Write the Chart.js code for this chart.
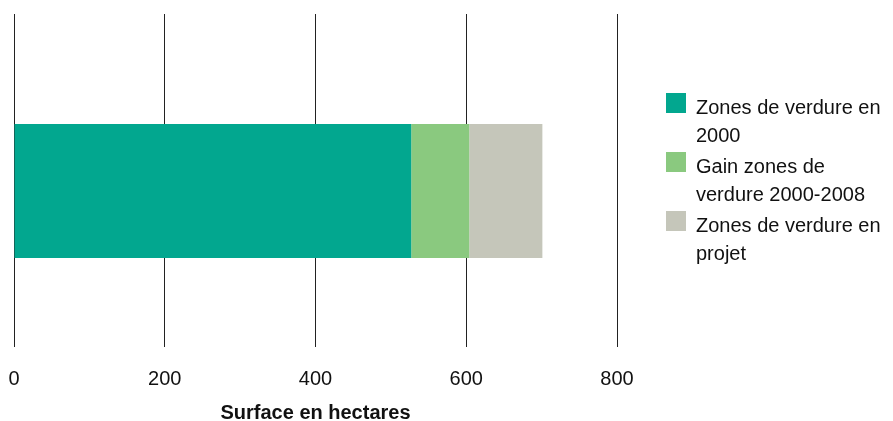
<!DOCTYPE html>
<html lang="fr">
<head>
<meta charset="utf-8">
<title>Surface des zones de verdure</title>
<script src="https://cdn.jsdelivr.net/npm/chart.js@4/dist/chart.umd.min.js"></script>
<style>
  html, body { margin: 0; padding: 0; background: #ffffff; }
  #wrap { position: relative; width: 893px; height: 421px; overflow: hidden; }
  #chart { position: absolute; left: 0; top: 0; }
  #legend {
    position: absolute; left: 666px; top: 93px;
    font-family: "Liberation Sans", Arial, sans-serif; font-size: 20px;
    line-height: 28px; color: #111111;
  }
  .item { position: relative; padding-left: 30px; margin-bottom: 3px; }
  .item .sw { position: absolute; left: 0; top: 0; width: 20px; height: 20px; }
</style>
</head>
<body>
<div id="wrap">
  <canvas id="chart" width="893" height="421"></canvas>
  <div id="legend"></div>
</div>
<script>
// Surface des zones de verdure (hectares)
const categories = ["Zones de verdure"];
const seriesNames = [
  "Zones de verdure en 2000",
  "Gain zones de verdure 2000-2008",
  "Zones de verdure en projet"
];
const legendLines = [
  ["Zones de verdure en", "2000"],
  ["Gain zones de", "verdure 2000-2008"],
  ["Zones de verdure en", "projet"]
];
const verdure2000 = [527];
const gain2000_2008 = [77];
const enProjet = [97];
const xTicks = [0, 200, 400, 600, 800];
const axisTitle = "Surface en hectares";
const colors = ["#02a78f", "#8ac97f", "#c5c6ba"];
const gridColor = "#222222";

const values = [verdure2000, gain2000_2008, enProjet];
const datasets = seriesNames.map((name, i) => ({
  label: name,
  data: values[i],
  backgroundColor: colors[i],
  borderWidth: 0,
  categoryPercentage: 1,
  barPercentage: 0.43
}));

const font = { family: "'Liberation Sans', Arial, sans-serif", size: 20 };

// Vertical grid lines run up to the top margin, above the plot area
const gridTop = {
  id: "gridTop",
  beforeDatasetsDraw(chart) {
    const { ctx, chartArea, scales } = chart;
    ctx.save();
    ctx.strokeStyle = gridColor;
    ctx.lineWidth = 1;
    ctx.beginPath();
    scales.x.ticks.forEach(t => {
      // same pixel alignment as the library's own grid lines
      const x = Math.round(scales.x.getPixelForValue(t.value) - 0.5) + 0.5;
      ctx.moveTo(x, 14);
      ctx.lineTo(x, chartArea.top);
    });
    ctx.stroke();
    ctx.restore();
  }
};

new Chart(document.getElementById("chart"), {
  type: "bar",
  data: { labels: categories, datasets },
  plugins: [gridTop],
  options: {
    indexAxis: "y",
    responsive: false,
    animation: false,
    layout: { padding: { left: 14, right: 276, top: 35, bottom: 0 } },
    plugins: { legend: { display: false }, tooltip: { enabled: false } },
    scales: {
      x: {
        stacked: true,
        min: xTicks[0],
        max: xTicks[xTicks.length - 1],
        afterBuildTicks: (scale) => { scale.ticks = xTicks.map(v => ({ value: v })); },
        afterFit: (scale) => { scale.paddingLeft = 0; scale.paddingRight = 0; },
        border: { display: false },
        grid: { color: gridColor, lineWidth: 1, drawTicks: false },
        ticks: { color: "#111111", font, padding: 20 },
        title: {
          display: true,
          text: axisTitle,
          color: "#111111",
          font: { family: font.family, size: 20, weight: "bold", lineHeight: "4px" },
          padding: { top: 0, bottom: 6 }
        }
      },
      y: {
        stacked: true,
        display: false
      }
    }
  }
});

// Legend with wrapped labels
const legend = document.getElementById("legend");
legendLines.forEach((lines, i) => {
  const item = document.createElement("div");
  item.className = "item";
  const sw = document.createElement("span");
  sw.className = "sw";
  sw.style.background = colors[i];
  item.appendChild(sw);
  lines.forEach((t, k) => {
    if (k) item.appendChild(document.createElement("br"));
    item.appendChild(document.createTextNode(t));
  });
  legend.appendChild(item);
});
</script>
</body>
</html>
